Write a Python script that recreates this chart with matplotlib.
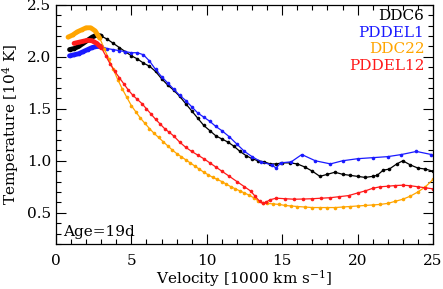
import numpy as np
import matplotlib
matplotlib.use("Agg")
import matplotlib.pyplot as plt
from matplotlib.ticker import MultipleLocator

plt.rcParams["font.family"] = ["DejaVu Serif"]
plt.rcParams["mathtext.fontset"] = "dejavuserif"

# ── data ──────────────────────────────────────────────────────────────────────
ddc6_v = [0.9, 1.2, 1.5, 1.8, 2.1, 2.4, 2.7, 3.0, 3.4, 3.8, 4.2, 4.6, 5.0, 5.4,
          5.8, 6.2, 6.6, 7.0, 7.4, 7.8, 8.2, 8.6, 9.0, 9.4, 9.8, 10.2, 10.6,
          11.0, 11.4, 11.8, 12.2, 12.6, 13.0, 13.4, 13.8, 14.2, 14.6, 15.0,
          15.5, 16.0, 16.5, 17.0, 17.5, 18.0, 18.5, 19.0, 19.5, 20.0, 20.5,
          21.0, 21.3, 21.7, 22.1, 22.6, 23.0, 23.5, 24.0, 24.5, 25.0]
ddc6_t = [2.07, 2.08, 2.10, 2.13, 2.16, 2.19, 2.21, 2.20, 2.17, 2.13, 2.09, 2.05,
          2.01, 1.98, 1.94, 1.91, 1.86, 1.79, 1.73, 1.68, 1.62, 1.55, 1.48, 1.41,
          1.34, 1.29, 1.24, 1.21, 1.18, 1.14, 1.09, 1.05, 1.02, 1.00, 0.99, 0.97,
          0.97, 0.98, 0.98, 0.97, 0.94, 0.90, 0.85, 0.87, 0.89, 0.87, 0.86, 0.85,
          0.84, 0.85, 0.86, 0.91, 0.92, 0.97, 1.00, 0.96, 0.93, 0.92, 0.90]

pddel1_v = [0.9, 1.2, 1.5, 1.8, 2.1, 2.4, 2.7, 3.0, 3.4, 3.8, 4.2, 4.6, 5.0, 5.4,
            5.8, 6.2, 6.6, 7.0, 7.4, 7.8, 8.2, 8.6, 9.0, 9.4, 9.8, 10.2, 10.6,
            11.0, 11.5, 12.0, 12.5, 13.0, 13.6, 14.3, 14.6, 14.9, 15.6, 16.3,
            17.2, 18.2, 19.0, 20.0, 21.0, 22.0, 22.9, 23.9, 24.9]
pddel1_t = [2.01, 2.02, 2.03, 2.05, 2.07, 2.09, 2.10, 2.10, 2.08, 2.07, 2.06,
            2.05, 2.04, 2.04, 2.02, 1.96, 1.88, 1.81, 1.75, 1.69, 1.63, 1.58,
            1.52, 1.46, 1.42, 1.38, 1.33, 1.29, 1.23, 1.16, 1.09, 1.04, 0.99,
            0.96, 0.93, 0.98, 0.99, 1.06, 1.00, 0.97, 1.00, 1.02, 1.03, 1.04,
            1.06, 1.09, 1.06]

ddc22_v = [0.8, 1.1, 1.4, 1.7, 2.0, 2.3, 2.6, 2.9, 3.2, 3.5, 3.8, 4.1, 4.4, 4.7,
           5.0, 5.3, 5.6, 5.9, 6.2, 6.5, 6.8, 7.1, 7.4, 7.7, 8.0, 8.3, 8.6, 8.9,
           9.2, 9.5, 9.8, 10.1, 10.4, 10.7, 11.0, 11.3, 11.6, 11.9, 12.2, 12.5,
           12.8, 13.1, 13.4, 13.7, 14.0, 14.4, 14.8, 15.2, 15.6, 16.0, 16.5,
           17.0, 17.5, 18.0, 18.5, 19.0, 19.5, 20.0, 20.5, 21.0, 21.5, 22.0,
           22.5, 23.0, 23.5, 24.0, 24.5, 25.0]
ddc22_t = [2.19, 2.21, 2.24, 2.26, 2.28, 2.28, 2.25, 2.18, 2.08, 1.98, 1.88, 1.78,
           1.69, 1.61, 1.53, 1.47, 1.41, 1.36, 1.31, 1.265, 1.225, 1.185, 1.145,
           1.105, 1.07, 1.04, 1.01, 0.98, 0.95, 0.92, 0.89, 0.865, 0.84, 0.82,
           0.80, 0.775, 0.75, 0.73, 0.71, 0.69, 0.67, 0.645, 0.615, 0.595, 0.59,
           0.585, 0.58, 0.57, 0.565, 0.56, 0.555, 0.55, 0.55, 0.55, 0.55, 0.555,
           0.56, 0.565, 0.57, 0.575, 0.58, 0.59, 0.61, 0.63, 0.66, 0.70, 0.75,
           0.82]

pddel12_v = [1.2, 1.5, 1.8, 2.1, 2.4, 2.7, 3.0, 3.3, 3.6, 3.9, 4.2, 4.5, 4.8, 5.1,
             5.4, 5.7, 6.0, 6.3, 6.6, 6.9, 7.2, 7.5, 7.8, 8.2, 8.6, 9.0, 9.4,
             9.8, 10.2, 10.6, 11.0, 11.5, 12.0, 12.5, 12.9, 13.2, 13.5, 13.7,
             13.9, 14.2, 14.6, 15.2, 15.8, 16.4, 17.0, 17.6, 18.2, 18.8, 19.4,
             20.0, 20.5, 21.0, 21.5, 22.0, 22.5, 23.0, 23.5, 24.0, 24.5, 25.0]
pddel12_t = [2.13, 2.14, 2.15, 2.16, 2.155, 2.13, 2.09, 2.01, 1.93, 1.86, 1.80,
             1.74, 1.68, 1.63, 1.59, 1.55, 1.50, 1.45, 1.40, 1.355, 1.31, 1.275,
             1.24, 1.18, 1.13, 1.09, 1.055, 1.02, 0.98, 0.94, 0.90, 0.85, 0.80,
             0.75, 0.71, 0.66, 0.61, 0.59, 0.60, 0.625, 0.64, 0.635, 0.63, 0.632,
             0.635, 0.64, 0.645, 0.655, 0.665, 0.69, 0.71, 0.735, 0.75, 0.755,
             0.762, 0.765, 0.76, 0.75, 0.74, 0.73]

series = [
    ("DDC6",    ddc6_v,    ddc6_t,    "black"),
    ("PDDEL1",  pddel1_v,  pddel1_t,  "#1a1aff"),
    ("DDC22",   ddc22_v,   ddc22_t,   "#ffa500"),
    ("PDDEL12", pddel12_v, pddel12_t, "#ff1a1a"),
]

# ── plot ──────────────────────────────────────────────────────────────────────
fig = plt.figure(figsize=(4.43, 2.89), dpi=100)
ax = fig.add_axes([0.1264, 0.156, 0.851, 0.827])

for name, v, t, c in series:
    v = np.asarray(v)
    t = np.asarray(t)
    ax.plot(v, t, color=c, linewidth=0.9, marker="o", markersize=2.6,
            markeredgewidth=0)
    # the low-velocity end is drawn thick in the original
    m = v <= 3.0
    ax.plot(v[m], t[m], color=c, linewidth=3.5, solid_capstyle="round")

ax.set_xlim(0, 25)
ax.set_ylim(0.2, 2.5)
ax.xaxis.set_major_locator(MultipleLocator(5))
ax.xaxis.set_minor_locator(MultipleLocator(1))
ax.yaxis.set_major_locator(MultipleLocator(0.5))
ax.yaxis.set_minor_locator(MultipleLocator(0.1))
ax.tick_params(which="both", direction="in", top=True, right=True,
               labelsize=11, width=0.8)
ax.tick_params(which="major", length=7)
ax.tick_params(which="minor", length=3.5)
ax.tick_params(axis="x", pad=7)
for sp in ax.spines.values():
    sp.set_linewidth(0.9)

ax.set_xlabel("Velocity [1000 km s$^{-1}$]", fontsize=11, labelpad=0)
ax.set_ylabel("Temperature [10$^4$ K]", fontsize=11, labelpad=4)

ypos = [0.954, 0.884, 0.815, 0.745]
for (name, v, t, c), y in zip(series, ypos):
    ax.text(0.977, y, name, color=c, fontsize=11, ha="right", va="center",
            transform=ax.transAxes)

ax.text(0.018, 0.05, "Age=19d", fontsize=11, ha="left", va="center",
        transform=ax.transAxes)

fig.savefig("out.png", dpi=100)
